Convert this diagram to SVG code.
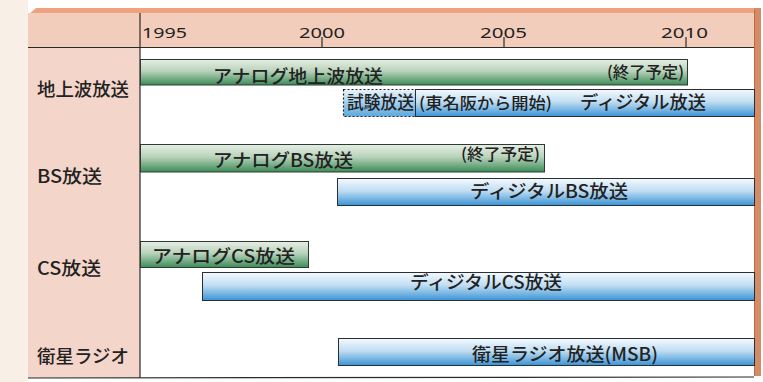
<svg xmlns="http://www.w3.org/2000/svg" width="763" height="382" viewBox="0 0 763 382">
<defs>
<linearGradient id="gGreen" x1="0" y1="0" x2="0" y2="1">
<stop offset="0" stop-color="#e6eee4"/>
<stop offset="0.45" stop-color="#b9d3bb"/>
<stop offset="1" stop-color="#3c8c58"/>
</linearGradient>
<linearGradient id="gBlue" x1="0" y1="0" x2="0" y2="1">
<stop offset="0" stop-color="#f3f9fd"/>
<stop offset="0.45" stop-color="#c2def2"/>
<stop offset="1" stop-color="#3a94d6"/>
</linearGradient>
<linearGradient id="gTrial" x1="0" y1="0" x2="0" y2="1">
<stop offset="0" stop-color="#eaf4fb"/>
<stop offset="1" stop-color="#5aa8de"/>
</linearGradient>
</defs>
<style>
text{font-family:"Noto Sans CJK JP","Noto Sans",sans-serif;fill:#222;font-weight:500;}
.lbl{font-size:18px;}
.bar{font-size:18px;}
.sm{font-size:16px;}
.yr{font-family:"Noto Sans","Liberation Sans",sans-serif;font-size:15px;font-weight:400;}
.green{fill:url(#gGreen);stroke:#2f3a33;stroke-width:1;}
.blue{fill:url(#gBlue);stroke:#2a2f36;stroke-width:1;}
.grid{stroke:#2a2a2a;stroke-width:1.2;fill:none;}
</style>
<!-- page background -->
<rect x="0" y="0" width="763" height="382" fill="#ffffff"/>
<rect x="0" y="0" width="28" height="382" fill="#f8efe6"/>
<!-- frame -->
<g id="frame">
<polygon points="28,15 36,8 754,8 754,13 28,13" fill="#eea27f"/>
<rect x="28" y="13" width="726" height="35" fill="#f3cdbb"/>
<rect x="28" y="48" width="112" height="330" fill="#f4d5c9"/>
<rect x="140" y="48" width="614" height="330" fill="#ffffff"/>
<rect x="754" y="8" width="7" height="368" fill="#d48c66"/>
<line x1="754.5" y1="10" x2="754.5" y2="376" stroke="#b96c44" stroke-width="1"/>
</g>
<g id="connectors">
<line class="grid" x1="28" y1="47.5" x2="754" y2="47.5"/>
<line class="grid" x1="140" y1="13" x2="140" y2="378"/>
<line class="grid" x1="28" y1="378" x2="754" y2="377" stroke-width="1.6"/>
<line class="grid" x1="322" y1="37" x2="322" y2="47"/>
<line class="grid" x1="504" y1="37" x2="504" y2="47"/>
<line class="grid" x1="686" y1="37" x2="686" y2="47"/>
</g>
<g id="years">
<text class="yr" x="142" y="38" textLength="45" lengthAdjust="spacingAndGlyphs">1995</text>
<text class="yr" x="299" y="38" textLength="46" lengthAdjust="spacingAndGlyphs">2000</text>
<text class="yr" x="480" y="38" textLength="47" lengthAdjust="spacingAndGlyphs">2005</text>
<text class="yr" x="661" y="38" textLength="47" lengthAdjust="spacingAndGlyphs">2010</text>
</g>
<g id="row-terrestrial">
<text class="lbl" x="37" y="96" textLength="92" lengthAdjust="spacingAndGlyphs">地上波放送</text>
</g>
<g id="analog-terrestrial">
<rect class="green" x="140.5" y="59.5" width="547" height="25.5"/>
<text class="bar" x="213" y="82.5" textLength="170" lengthAdjust="spacingAndGlyphs">アナログ地上波放送</text>
<text class="sm" x="607" y="78" textLength="77" lengthAdjust="spacingAndGlyphs">(終了予定)</text>
</g>
<g id="trial-terrestrial">
<rect x="343.5" y="89.5" width="72" height="27" fill="url(#gTrial)" stroke="#222" stroke-width="1.2" stroke-dasharray="2,2"/>
<text class="bar" x="347" y="109" textLength="67" lengthAdjust="spacingAndGlyphs">試験放送</text>
</g>
<g id="digital-terrestrial">
<rect class="blue" x="415.5" y="89.5" width="339" height="27"/>
<text class="sm" x="419" y="109" textLength="133" lengthAdjust="spacingAndGlyphs">(東名阪から開始)</text>
<text class="bar" x="580" y="109" textLength="126" lengthAdjust="spacingAndGlyphs">ディジタル放送</text>
</g>
<g id="row-bs">
<text class="lbl" x="37" y="183" textLength="65" lengthAdjust="spacingAndGlyphs">BS放送</text>
</g>
<g id="analog-bs">
<rect class="green" x="140.5" y="144.5" width="404" height="27.5"/>
<text class="bar" x="213" y="166.5" textLength="140" lengthAdjust="spacingAndGlyphs">アナログBS放送</text>
<text class="sm" x="461" y="160" textLength="79" lengthAdjust="spacingAndGlyphs">(終了予定)</text>
</g>
<g id="digital-bs">
<rect class="blue" x="337.5" y="178.5" width="417" height="27"/>
<text class="bar" x="470" y="198" textLength="158" lengthAdjust="spacingAndGlyphs">ディジタルBS放送</text>
</g>
<g id="row-cs">
<text class="lbl" x="37" y="275" textLength="64" lengthAdjust="spacingAndGlyphs">CS放送</text>
</g>
<g id="analog-cs">
<rect class="green" x="140.5" y="241.5" width="168" height="26"/>
<text class="bar" x="152" y="263" textLength="143" lengthAdjust="spacingAndGlyphs">アナログCS放送</text>
</g>
<g id="digital-cs">
<rect class="blue" x="202.5" y="272.5" width="552" height="28"/>
<text class="bar" x="410" y="289" textLength="152" lengthAdjust="spacingAndGlyphs">ディジタルCS放送</text>
</g>
<g id="row-radio">
<text class="lbl" x="37" y="363" textLength="92" lengthAdjust="spacingAndGlyphs">衛星ラジオ</text>
</g>
<g id="satellite-radio">
<rect class="blue" x="338.5" y="338.5" width="416" height="27"/>
<text class="bar" x="472" y="360.5" textLength="186" lengthAdjust="spacingAndGlyphs">衛星ラジオ放送(MSB)</text>
</g>
</svg>
